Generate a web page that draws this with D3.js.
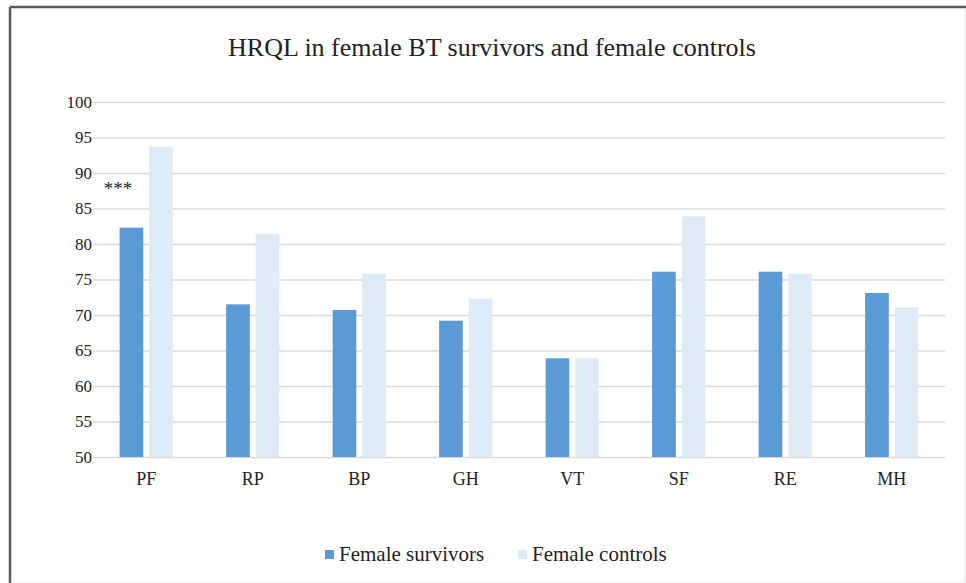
<html>
<head>
  <style>
  body { margin: 0; background: #fff; }
  #chart text { font-family: "Liberation Serif", "Times New Roman", serif; fill: #222; }
  #chart .grid line { stroke: #d9d9d9; stroke-width: 1.5; }
  #chart .grid path { display: none; }
  </style>
  <script src="https://d3js.org/d3.v7.min.js"></script>
</head>
<body>
  <svg id="chart"></svg>
</body>
  <script>

  var categories = ["PF", "RP", "BP", "GH", "VT", "SF", "RE", "MH"];
  var series = ["Female survivors", "Female controls"];
  var survivors = [82.3, 71.5, 70.7, 69.2, 63.9, 76.1, 76.1, 73.1];
  var controls = [93.7, 81.4, 75.8, 72.3, 63.9, 83.9, 75.8, 71.1];
  var yTicks = [50, 55, 60, 65, 70, 75, 80, 85, 90, 95, 100];
  var colors = ["#5b9bd5", "#ddebf7"];

  var width = 966,
      height = 583;

  // plot area edges (window.top is reserved, so use other names)
  var plotLeft = 93, plotRight = 945, plotTop = 102, plotBottom = 457;

  var svg = d3.select("#chart")
      .attr("width", width)
      .attr("height", height);

  // frame of the chart area
  svg.append("line").attr("x1", 10).attr("x2", 10).attr("y1", 7).attr("y2", height)
      .attr("stroke", "#595959").attr("stroke-width", 2.5);
  svg.append("line").attr("x1", 10).attr("x2", width).attr("y1", 7).attr("y2", 7)
      .attr("stroke", "#595959").attr("stroke-width", 2.5);
  svg.append("line").attr("x1", 965).attr("x2", 965).attr("y1", 8).attr("y2", height)
      .attr("stroke", "#e6e6e6").attr("stroke-width", 1);
  svg.append("line").attr("x1", 11).attr("x2", width).attr("y1", 582).attr("y2", 582)
      .attr("stroke", "#ededed").attr("stroke-width", 1);

  var y = d3.scaleLinear()
      .domain([50, 100])
      .range([plotBottom, plotTop]);

  var x0 = d3.scaleBand()
      .domain(categories)
      .range([plotLeft, plotRight]);

  var x1 = d3.scaleBand()
      .domain(series)
      .range([x0.bandwidth() * 0.25, x0.bandwidth() * 0.75])
      .paddingInner(0.2);

  // gridlines
  svg.append("g")
      .attr("class", "grid")
      .attr("transform", "translate(" + plotLeft + ",0)")
      .call(d3.axisRight(y).tickValues(yTicks).tickSize(plotRight - plotLeft).tickFormat(""));

  // y tick labels
  svg.append("g").selectAll("text")
      .data(yTicks)
    .enter().append("text")
      .attr("x", 92)
      .attr("y", function(d) { return y(d); })
      .attr("dy", "0.35em")
      .attr("text-anchor", "end")
      .style("font-size", "17px")
      .text(function(d) { return d; });

  var rows = categories.map(function(c, i) {
    return { cat: c, values: [survivors[i], controls[i]] };
  });

  var group = svg.append("g").selectAll("g")
      .data(rows)
    .enter().append("g")
      .attr("transform", function(d) { return "translate(" + x0(d.cat) + ",0)"; });

  group.selectAll("rect")
      .data(function(d) { return d.values.map(function(v, j) { return { s: series[j], v: v, j: j }; }); })
    .enter().append("rect")
      .attr("x", function(d) { return x1(d.s); })
      .attr("y", function(d) { return y(d.v); })
      .attr("width", x1.bandwidth())
      .attr("height", function(d) { return y(50) - y(d.v); })
      .attr("fill", function(d) { return colors[d.j]; });

  // category labels
  svg.append("g").selectAll("text")
      .data(categories)
    .enter().append("text")
      .attr("x", function(d) { return x0(d) + x0.bandwidth() / 2; })
      .attr("y", 485)
      .attr("text-anchor", "middle")
      .style("font-size", "18px")
      .text(function(d) { return d; });

  // significance marker on PF
  svg.append("text")
      .attr("x", x0("PF") + x0.bandwidth() * 0.1)
      .attr("y", 195)
      .style("font-size", "19px")
      .text("***");

  // title
  svg.append("text")
      .attr("x", 492)
      .attr("y", 56)
      .attr("text-anchor", "middle")
      .style("font-size", "26px")
      .text("HRQL in female BT survivors and female controls");

  // legend
  var legendX = [325, 518];
  var legend = svg.append("g").selectAll("g")
      .data(series)
    .enter().append("g")
      .attr("transform", function(d, i) { return "translate(" + legendX[i] + ",550)"; });

  legend.append("rect")
      .attr("width", 9)
      .attr("height", 9)
      .attr("fill", function(d, i) { return colors[i]; });

  legend.append("text")
      .attr("x", 14)
      .attr("y", 11)
      .style("font-size", "21px")
      .text(function(d) { return d; });

  </script>
</html>
